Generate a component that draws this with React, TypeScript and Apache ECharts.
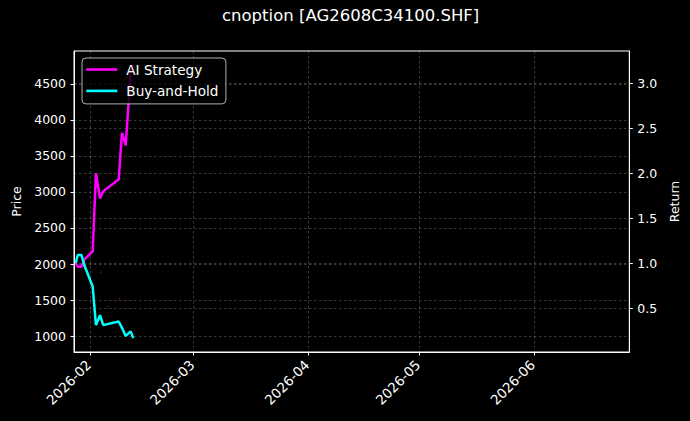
import { useEffect, useRef } from "react";
import * as echarts from "echarts";

// Trade timestamps (local time) and the two equity curves
const DATES = [
  "2026-01-28 03:20",
  "2026-01-28 16:50",
  "2026-01-29 16:50",
  "2026-01-30 10:50",
  "2026-02-01 17:30",
  "2026-02-02 14:50",
  "2026-02-03 16:50",
  "2026-02-04 14:10",
  "2026-02-08 18:10",
  "2026-02-09 15:40",
  "2026-02-10 15:40",
  "2026-02-12 00:00",
  "2026-02-12 16:50",
];
const AI_STRATEGY = [1.0, 0.96, 0.96, 1.04, 1.13, 2.0, 1.72, 1.8, 1.93, 2.45, 2.31, 3.12, 3.21];
const BUY_HOLD = [1.0, 1.09, 1.09, 0.98, 0.74, 0.31, 0.42, 0.31, 0.35, 0.28, 0.19, 0.24, 0.165];

// faint price marks on the left axis
const MARK_DATES = ["2026-02-03 23:20", "2026-02-05 19:10", "2026-02-08 21:40"];
const MARK_PRICES = [1885, 1407, 1524];

const PRICE_TICKS = [1000, 1500, 2000, 2500, 3000, 3500, 4000, 4500];
const RETURN_TICKS = [0.5, 1.0, 1.5, 2.0, 2.5, 3.0];
const MONTH_TICKS = ["2026-02-01 00:00", "2026-03-01 00:00", "2026-04-01 00:00", "2026-05-01 00:00", "2026-06-01 00:00"];

const X_MIN = "2026-01-27 16:20";
const X_MAX = "2026-06-26 19:10";

const FONT = "DejaVu Sans";

const toTime = (s: string) => new Date(s.replace(" ", "T")).getTime();

export default function App() {
  const chartRef = useRef<HTMLDivElement>(null);

  useEffect(() => {
    if (!chartRef.current) return;
    const chart = echarts.init(chartRef.current, undefined, { renderer: "svg" });

    const gridLine = {
      show: true,
      lineStyle: { color: "rgba(255,255,255,0.28)", width: 0.8, type: [2.5, 2.5] as number[] },
    };
    const monthTicks = MONTH_TICKS.map(toTime);

    const option: echarts.EChartsOption = {
      animation: false,
      backgroundColor: "#000000",
      textStyle: { fontFamily: FONT },
      title: {
        text: "cnoption [AG2608C34100.SHF]",
        left: 222,
        top: 7,
        padding: 0,
        textStyle: { color: "#ffffff", fontSize: 16.5, fontWeight: "normal", fontFamily: FONT },
      },
      legend: {
        data: ["AI Strategy", "Buy-and-Hold"],
        orient: "vertical",
        left: 82,
        top: 58,
        padding: [3.5, 7.5, 5, 4.3],
        itemGap: 5.4,
        itemWidth: 31,
        itemHeight: 2.6,
        icon: "rect",
        backgroundColor: "rgba(0,0,0,0.8)",
        borderColor: "rgba(220,220,220,0.8)",
        borderWidth: 1,
        borderRadius: 4,
        textStyle: {
          color: "#ffffff",
          fontSize: 13.6,
          fontFamily: FONT,
          lineHeight: 16,
          padding: [0, 0, 0, 4],
        },
      },
      grid: {
        left: 74,
        top: 51,
        right: 60.7,
        bottom: 69,
        show: true,
        borderColor: "#ffffff",
        borderWidth: 1,
        backgroundColor: "#000000",
      },
      // timestamps on a value axis so the month ticks can be placed exactly
      xAxis: {
        type: "value",
        min: toTime(X_MIN),
        max: toTime(X_MAX),
        axisLine: { show: true, onZero: false, lineStyle: { color: "#ffffff", width: 1 } },
        axisTick: {
          show: true,
          length: 3.5,
          lineStyle: { color: "#ffffff" },
          customValues: monthTicks,
        },
        axisLabel: {
          color: "#ffffff",
          fontSize: 13.5,
          fontFamily: FONT,
          rotate: 45,
          margin: 9,
          padding: [0, 2, 0, 0],
          customValues: monthTicks,
          formatter: (v: number) => {
            const d = new Date(v);
            return `${d.getFullYear()}-${String(d.getMonth() + 1).padStart(2, "0")}`;
          },
        },
        splitLine: gridLine,
      },
      yAxis: [
        {
          type: "value",
          name: "Price",
          nameLocation: "middle",
          nameRotate: 90,
          nameGap: 48,
          nameTextStyle: { color: "#ffffff", fontSize: 12.5, fontFamily: FONT },
          min: 778,
          max: 4958,
          axisLine: { show: true, onZero: false, lineStyle: { color: "#ffffff", width: 1 } },
          axisTick: { show: true, length: 3.5, lineStyle: { color: "#ffffff" }, customValues: PRICE_TICKS },
          axisLabel: {
            color: "#ffffff",
            fontSize: 12.5,
            fontFamily: FONT,
            margin: 8,
            customValues: PRICE_TICKS,
            formatter: (v: number) => String(v),
          },
          splitLine: gridLine,
        },
        {
          type: "value",
          name: "Return",
          nameLocation: "middle",
          nameRotate: 90,
          nameGap: 36,
          nameTextStyle: { color: "#ffffff", fontSize: 12.5, fontFamily: FONT },
          min: 0.011,
          max: 3.361,
          position: "right",
          axisLine: { show: true, onZero: false, lineStyle: { color: "#ffffff", width: 1 } },
          axisTick: { show: true, length: 3.5, lineStyle: { color: "#ffffff" }, customValues: RETURN_TICKS },
          axisLabel: {
            color: "#ffffff",
            fontSize: 12.5,
            fontFamily: FONT,
            margin: 8,
            customValues: RETURN_TICKS,
            formatter: (v: number) => v.toFixed(1),
          },
          splitLine: gridLine,
        },
      ],
      series: [
        {
          name: "Price marks",
          type: "scatter",
          yAxisIndex: 0,
          symbolSize: 2,
          itemStyle: { color: "rgba(150,0,40,0.7)" },
          data: MARK_DATES.map((d, i) => [toTime(d), MARK_PRICES[i]]),
          silent: true,
        },
        {
          name: "AI Strategy",
          type: "line",
          yAxisIndex: 1,
          showSymbol: false,
          symbol: "none",
          color: "#ff00ff",
          lineStyle: { color: "#ff00ff", width: 2.5 },
          data: DATES.map((d, i) => [toTime(d), AI_STRATEGY[i]]),
        },
        {
          name: "Buy-and-Hold",
          type: "line",
          yAxisIndex: 1,
          showSymbol: false,
          symbol: "none",
          color: "#00ffff",
          lineStyle: { color: "#00ffff", width: 2.5 },
          data: DATES.map((d, i) => [toTime(d), BUY_HOLD[i]]),
        },
      ],
    };

    chart.setOption(option);

    return () => {
      chart.dispose();
    };
  }, []);

  return (
    <div
      ref={chartRef}
      style={{ position: "absolute", left: 0, top: 0, width: "690px", height: "421px", background: "#000" }}
    />
  );
}
